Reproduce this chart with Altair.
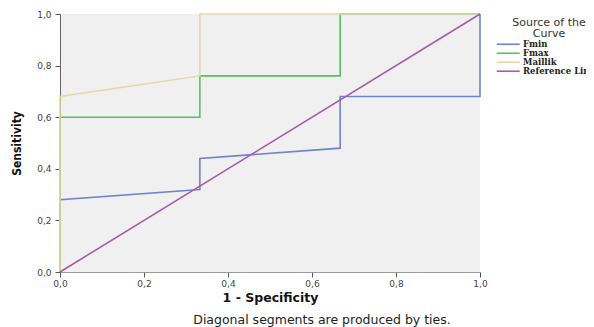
import altair as alt
import pandas as pd

series = ["Fmin", "Fmax", "Maillik", "Reference Line"]
colors = ["#6f82cf", "#52c45e", "#e2d9a6", "#a85aa8"]

fmin_x = [0.0, 0.0, 0.333, 0.333, 0.667, 0.667, 1.0, 1.0]
fmin_y = [0.0, 0.28, 0.32, 0.44, 0.48, 0.68, 0.68, 1.0]
fmax_x = [0.0, 0.0, 0.333, 0.333, 0.667, 0.667, 1.0]
fmax_y = [0.0, 0.60, 0.60, 0.76, 0.76, 1.0, 1.0]
mail_x = [0.0, 0.0, 0.333, 0.333, 1.0]
mail_y = [0.0, 0.68, 0.76, 1.0, 1.0]
ref_x = [0.0, 1.0]
ref_y = [0.0, 1.0]

ticks = [0.0, 0.2, 0.4, 0.6, 0.8, 1.0]

rows = []
for name, xs, ys in [("Fmin", fmin_x, fmin_y), ("Fmax", fmax_x, fmax_y),
                     ("Maillik", mail_x, mail_y), ("Reference Line", ref_x, ref_y)]:
    for i, (a, b) in enumerate(zip(xs, ys)):
        rows.append({"series": name, "x": a, "y": b, "idx": i})
df = pd.DataFrame(rows)

label_expr = "replace(format(datum.value, '.1f'), '.', ',')"

chart = alt.Chart(df).mark_line(strokeWidth=1.6, clip=False).encode(
    x=alt.X("x:Q", scale=alt.Scale(domain=[0, 1], nice=False),
            axis=alt.Axis(title="1 - Specificity", values=ticks, labelExpr=label_expr,
                          grid=False, domainColor="#9a9a9a", tickColor="#555",
                          tickSize=5, labelFontSize=9, labelColor="#444",
                          labelFont="DejaVu Sans", labelFlush=False,
                          titleFont="DejaVu Sans",
                          titleFontSize=12.5, titleFontWeight="bold", titleColor="#111",
                          titlePadding=3, labelPadding=2)),
    y=alt.Y("y:Q", scale=alt.Scale(domain=[0, 1], nice=False),
            axis=alt.Axis(title="Sensitivity", values=ticks, labelExpr=label_expr,
                          grid=False, domainColor="#666", tickColor="#555",
                          tickSize=5, labelFontSize=9, labelColor="#444",
                          labelFont="DejaVu Sans", labelFlush=False,
                          titleFont="Liberation Sans Narrow, DejaVu Sans Condensed, Liberation Sans",
                          titleFontSize=12, titleFontWeight="bold", titleColor="#111",
                          titlePadding=13, labelPadding=4)),
    color=alt.Color("series:N", scale=alt.Scale(domain=series, range=colors),
                    legend=alt.Legend(title=["Source of the", "Curve"], orient="none",
                                      legendX=444, legendY=3, symbolType="M-4,0H4",
                                      symbolSize=33, symbolStrokeWidth=1.6,
                                      labelFont="DejaVu Serif", labelFontWeight="bold",
                                      labelFontSize=8.5, labelColor="#222",
                                      titleFont="DejaVu Sans", titleFontSize=11,
                                      titleFontWeight="normal", titleColor="#333",
                                      titleAlign="center", titleAnchor="middle",
                                      rowPadding=0, labelOffset=10.5, titlePadding=1,
                                      titleLineHeight=11)),
    order="idx:Q",
).properties(
    width=420, height=258,
    autosize=alt.AutoSizeParams(type="none"),
    padding={"left": 52, "top": 6, "right": 106, "bottom": 57},
    title=alt.TitleParams("Diagonal segments are produced by ties.", orient="bottom",
                          anchor="middle", dx=52, offset=10, fontSize=12.5,
                          fontWeight="normal", font="DejaVu Sans", color="#222"),
).configure_view(fill="#f0f0f0", stroke=None)

chart.save("out.html", embed_options={"renderer": "svg", "actions": False})
